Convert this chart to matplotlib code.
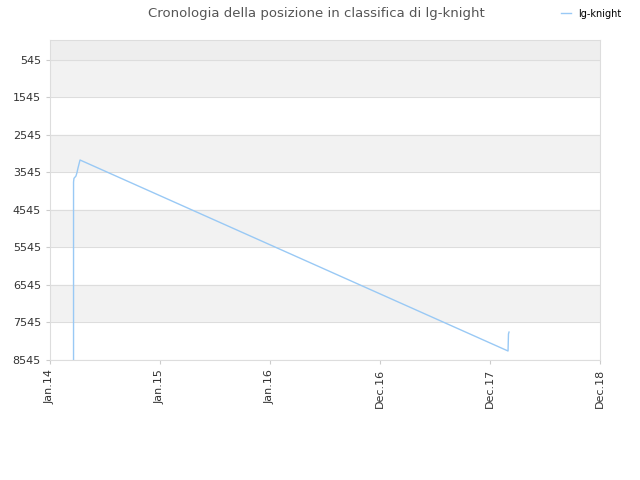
import matplotlib
matplotlib.use('Agg')
import matplotlib.pyplot as plt

# x in years since Jan.14, y = rank
xs = [0.214, 0.214, 0.218, 0.236, 0.245, 0.255, 0.273, 4.164, 4.168, 4.173]
ranks = [8545, 3800, 3700, 3640, 3550, 3420, 3212, 8305, 7850, 7800]
tick_pos = [0, 1, 2, 3, 4, 5]
tick_labels = ['Jan.14', 'Jan.15', 'Jan.16', 'Dec.16', 'Dec.17', 'Dec.18']
yticks = [545, 1545, 2545, 3545, 4545, 5545, 6545, 7545, 8545]

fig = plt.figure(figsize=(6.4, 4.8), dpi=100)
ax = fig.add_axes([50/640, 120/480, 550/640, 320/480])
top = 12
ax.axhspan(top, 545, color='#eeeeee', zorder=0)
for i, (a, b) in enumerate(zip(yticks[:-1], yticks[1:])):
    ax.axhspan(a, b, color='#f2f2f2' if i % 2 == 0 else 'white', zorder=0)
for y in yticks:
    ax.axhline(y, color='#dddddd', lw=0.8, zorder=1)

ax.plot(xs, ranks, color='#99c9f5', lw=1, label='lg-knight', zorder=2)
ax.set_xlim(0, 5)
ax.set_ylim(8545, top)
ax.set_yticks(yticks)
ax.set_yticklabels([str(y) for y in yticks], fontsize=8, color='#333333')
ax.set_xticks(tick_pos)
ax.set_xticklabels(tick_labels, rotation=90, fontsize=8, color='#333333')
ax.tick_params(length=3, color='#cccccc')
for s in ax.spines.values():
    s.set_color('#dddddd')
fig.suptitle('Cronologia della posizione in classifica di lg-knight', x=0.495, y=0.985,
             fontsize=9.5, color='#555555')
fig.legend(loc='upper right', bbox_to_anchor=(0.985, 1.0), frameon=False, fontsize=7,
           handlelength=1.0)
fig.savefig('out.png', dpi=100)
